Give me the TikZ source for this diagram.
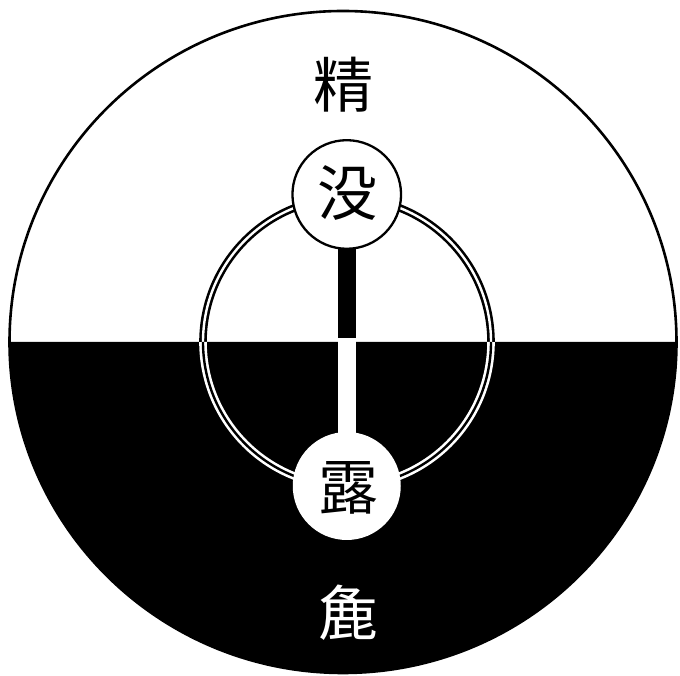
\documentclass[tikz,border=0pt]{standalone}
\usepackage{fontspec}
\newfontfamily\cjk{Noto Sans CJK JP}
\begin{document}
\begin{tikzpicture}[x=1pt,y=1pt,
  glyph/.style={font=\cjk\fontsize{60}{60}\selectfont, inner sep=0pt},
  hub/.style={circle, minimum size=#1, inner sep=0pt, fill=white},
  outer/.style={line width=2.6pt},
  ringtop/.style={line width=2.6pt, draw=black, double=white, double distance=2.4pt},
  ringbot/.style={line width=2.6pt, draw=white, double=black, double distance=2.4pt},
  barline/.style={line width=18.5pt}]
\useasboundingbox (0,0) rectangle (680,676);
% big disc
\fill[white] (343,334) ellipse [x radius=333.5, y radius=331];
\fill[black] (9.5,334) arc[start angle=180, end angle=360, x radius=333.5, y radius=331] -- cycle;
\draw[outer] (343,334) ellipse [x radius=333.5, y radius=331];
% inner double ring
\draw[ringtop] (203,334) arc[start angle=180, end angle=0, radius=144];
\draw[ringbot] (203,334) arc[start angle=180, end angle=360, radius=144];
% bar
\coordinate (moc) at (346.75,481.5);
\coordinate (luc) at (346.75,190);
\coordinate (mid) at (346.75,337.5);
\draw[barline, black] (moc) -- (mid);
\draw[barline, white] (mid) -- (luc);
% hubs
\node[hub=108.6pt, draw=black, line width=2.3pt] (mo) at (moc) {};
\node[hub=108pt] (lu) at (luc) {};
% texts
\node[glyph] (t1) at (343,591) {精};
\node[glyph] (t2) at (347.5,483) {没};
\node[glyph] (t3) at (348,188) {露};
\node[glyph, text=white] (t4) at (348.5,63) {麁};
\end{tikzpicture}
\end{document}
